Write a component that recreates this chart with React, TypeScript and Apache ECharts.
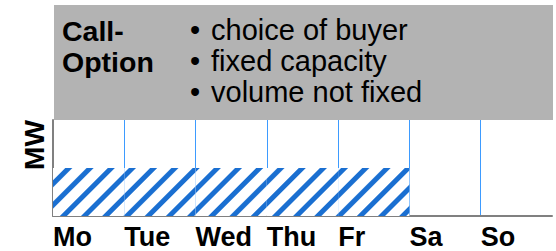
import React, { useEffect, useRef } from "react";
import * as echarts from "echarts";

const days = ["Mo", "Tue", "Wed", "Thu", "Fr", "Sa", "So"];
const boundaryLabels = ["Mo", "Tue", "Wed", "Thu", "Fr", "Sa", "So", ""];
const capacity = [50, 50, 50, 50, 50, null, null];
const yMin = 0;
const yMax = 100;
const titleLines = ["Call-", "Option"];
const bullets = ["choice of buyer", "fixed capacity", "volume not fixed"];
const yName = "MW";

const FONT = "'Liberation Sans', Arial, Helvetica, sans-serif";

export default function App() {
  const ref = useRef<HTMLDivElement>(null);
  useEffect(() => {
    if (!ref.current) return;
    const chart = echarts.init(ref.current, null, { renderer: "svg" });
    chart.setOption({
      animation: false,
      backgroundColor: "#ffffff",
      textStyle: { fontFamily: FONT },
      grid: { left: 53, right: 4, top: 120, bottom: 35, containLabel: false },
      xAxis: [
        {
          type: "category",
          data: days,
          boundaryGap: true,
          position: "bottom",
          axisLine: { show: true, lineStyle: { color: "#808080", width: 2 } },
          axisTick: { show: false },
          axisLabel: { show: false },
          splitLine: {
            show: true,
            showMinLine: false,
            showMaxLine: false,
            interval: 0,
            lineStyle: { color: "#3d9bff", width: 1 },
          },
        },
        {
          type: "category",
          data: boundaryLabels,
          boundaryGap: false,
          position: "bottom",
          axisLine: { show: false },
          axisTick: { show: false },
          splitLine: { show: false },
          axisLabel: {
            show: true,
            interval: 0,
            align: "left",
            margin: 7,
            color: "#000",
            fontSize: 27,
            fontWeight: "bold",
            fontFamily: FONT,
          },
        },
      ],
      yAxis: {
        type: "value",
        min: yMin,
        max: yMax,
        interval: 50,
        axisLine: { show: true, lineStyle: { color: "#808080", width: 2 } },
        axisTick: { show: false },
        axisLabel: { show: false },
        splitLine: { show: false },
      },
      series: [
        {
          type: "bar",
          xAxisIndex: 0,
          data: capacity,
          barCategoryGap: "0%",
          itemStyle: {
            color: "#ffffff",
            decal: {
              symbol: "rect",
              symbolSize: 1,
              color: "#1a6fd1",
              dashArrayX: [1, 0],
              dashArrayY: [5, 10],
              rotation: -Math.PI / 4,
            },
          },
        },
      ],
      graphic: [
        {
          type: "rect",
          shape: { x: 54, y: 5, width: 499, height: 115 },
          style: { fill: "#b3b3b3" },
          z: 10,
        },
        {
          type: "text",
          x: 62,
          y: 15.5,
          z: 11,
          style: {
            text: titleLines.join("\n"),
            font: `bold 28.5px ${FONT}`,
            fill: "#000",
            lineHeight: 31,
            align: "left",
            verticalAlign: "top",
          },
        },
        {
          type: "text",
          x: 190,
          y: 14,
          z: 11,
          style: {
            text: bullets.map(() => "\u2022").join("\n"),
            font: `29px ${FONT}`,
            fill: "#000",
            lineHeight: 31,
            align: "left",
            verticalAlign: "top",
          },
        },
        {
          type: "text",
          x: 211,
          y: 14,
          z: 11,
          style: {
            text: bullets.join("\n"),
            font: `29px ${FONT}`,
            fill: "#000",
            lineHeight: 31,
            align: "left",
            verticalAlign: "top",
          },
        },
        {
          type: "text",
          x: 34.5,
          y: 145,
          rotation: Math.PI / 2,
          z: 11,
          style: {
            text: yName,
            font: `bold 28px ${FONT}`,
            fill: "#000",
            align: "center",
            verticalAlign: "middle",
          },
        },
      ],
    });
    return () => chart.dispose();
  }, []);
  return (
    <div
      ref={ref}
      style={{ position: "fixed", left: 0, top: 0, width: 556, height: 251 }}
    />
  );
}
